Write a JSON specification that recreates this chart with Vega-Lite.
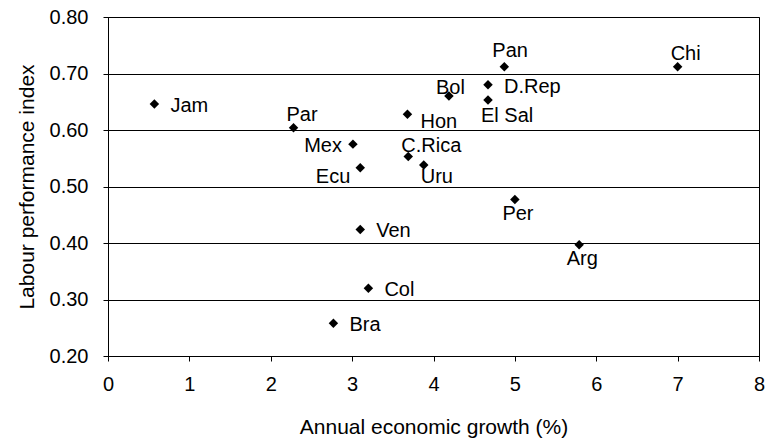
{
  "$schema": "https://vega.github.io/schema/vega-lite/v6.json",
  "width": 651,
  "height": 339,
  "autosize": {"type": "none"},
  "padding": {"left": 108, "top": 17, "right": 6, "bottom": 83},
  "background": "white",
  "config": {
    "font": "Liberation Sans",
    "view": {"stroke": "black", "strokeWidth": 1},
    "axis": {
      "labelFont": "Liberation Sans",
      "titleFont": "Liberation Sans",
      "labelColor": "black",
      "titleColor": "black",
      "labelFontSize": 20,
      "titleFontSize": 21,
      "titleFontWeight": "normal",
      "domainColor": "black",
      "tickColor": "black",
      "tickSize": 5,
      "gridColor": "black",
      "gridOpacity": 1,
      "gridWidth": 1
    },
    "text": {"font": "Liberation Sans", "fontSize": 20, "color": "black"}
  },
  "data": {
    "values": [
      {"country": "Jam", "growth": 0.57, "index": 0.646},
      {"country": "Par", "growth": 2.28, "index": 0.604},
      {"country": "Mex", "growth": 3.01, "index": 0.575},
      {"country": "Ecu", "growth": 3.10, "index": 0.533},
      {"country": "Pan", "growth": 4.87, "index": 0.712},
      {"country": "Chi", "growth": 7.00, "index": 0.712},
      {"country": "Bol", "growth": 4.19, "index": 0.660},
      {"country": "D.Rep", "growth": 4.67, "index": 0.680},
      {"country": "El Sal", "growth": 4.67, "index": 0.653},
      {"country": "Hon", "growth": 3.68, "index": 0.628},
      {"country": "C.Rica", "growth": 3.69, "index": 0.553},
      {"country": "Uru", "growth": 3.88, "index": 0.538},
      {"country": "Per", "growth": 5.00, "index": 0.477},
      {"country": "Arg", "growth": 5.79, "index": 0.397},
      {"country": "Ven", "growth": 3.10, "index": 0.424},
      {"country": "Col", "growth": 3.20, "index": 0.320},
      {"country": "Bra", "growth": 2.77, "index": 0.258}
    ]
  },
  "encoding": {
    "x": {
      "field": "growth",
      "type": "quantitative",
      "scale": {"domain": [0, 8], "nice": false, "zero": false},
      "axis": {
        "title": "Annual economic growth (%)",
        "values": [0, 1, 2, 3, 4, 5, 6, 7, 8],
        "format": "d",
        "grid": false,
        "labelPadding": 13,
        "titlePadding": 22,
        "labelFlush": false,
        "labelOverlap": false
      }
    },
    "y": {
      "field": "index",
      "type": "quantitative",
      "scale": {"domain": [0.2, 0.8], "nice": false, "zero": false},
      "axis": {
        "title": "Labour performance index",
        "values": [0.2, 0.3, 0.4, 0.5, 0.6, 0.7, 0.8],
        "format": ".2f",
        "grid": true,
        "labelPadding": 15,
        "titlePadding": 12,
        "labelFlush": false,
        "labelOverlap": false
      }
    },
    "text": {"field": "country", "type": "nominal"}
  },
  "layer": [
    {
      "mark": {"type": "point", "shape": "diamond", "filled": true, "color": "black", "size": 90, "opacity": 1},
      "encoding": {"text": null}
    },
    {
      "transform": [{"filter": {"field": "country", "oneOf": ["Jam", "D.Rep", "Ven", "Col", "Bra"]}}],
      "mark": {"type": "text", "align": "left", "baseline": "middle", "dx": 16, "dy": 2}
    },
    {
      "transform": [{"filter": {"field": "country", "oneOf": ["Hon"]}}],
      "mark": {"type": "text", "align": "left", "baseline": "middle", "dx": 13, "dy": 7.5}
    },
    {
      "transform": [{"filter": {"field": "country", "oneOf": ["Mex"]}}],
      "mark": {"type": "text", "align": "right", "baseline": "middle", "dx": -11, "dy": 2}
    },
    {
      "transform": [{"filter": {"field": "country", "oneOf": ["Ecu"]}}],
      "mark": {"type": "text", "align": "right", "baseline": "middle", "dx": -10, "dy": 9}
    },
    {
      "transform": [{"filter": {"field": "country", "oneOf": ["Par", "Chi"]}}],
      "mark": {"type": "text", "align": "left", "baseline": "middle", "dx": -7, "dy": -13}
    },
    {
      "transform": [{"filter": {"field": "country", "oneOf": ["C.Rica"]}}],
      "mark": {"type": "text", "align": "left", "baseline": "middle", "dx": -7, "dy": -11}
    },
    {
      "transform": [{"filter": {"field": "country", "oneOf": ["Pan"]}}],
      "mark": {"type": "text", "align": "left", "baseline": "middle", "dx": -12, "dy": -16}
    },
    {
      "transform": [{"filter": {"field": "country", "oneOf": ["Bol"]}}],
      "mark": {"type": "text", "align": "left", "baseline": "middle", "dx": -13, "dy": -8}
    },
    {
      "transform": [{"filter": {"field": "country", "oneOf": ["El Sal"]}}],
      "mark": {"type": "text", "align": "left", "baseline": "middle", "dx": -7, "dy": 16}
    },
    {
      "transform": [{"filter": {"field": "country", "oneOf": ["Uru"]}}],
      "mark": {"type": "text", "align": "left", "baseline": "middle", "dx": -3, "dy": 11.5}
    },
    {
      "transform": [{"filter": {"field": "country", "oneOf": ["Per", "Arg"]}}],
      "mark": {"type": "text", "align": "left", "baseline": "middle", "dx": -12.5, "dy": 14.5}
    }
  ]
}
